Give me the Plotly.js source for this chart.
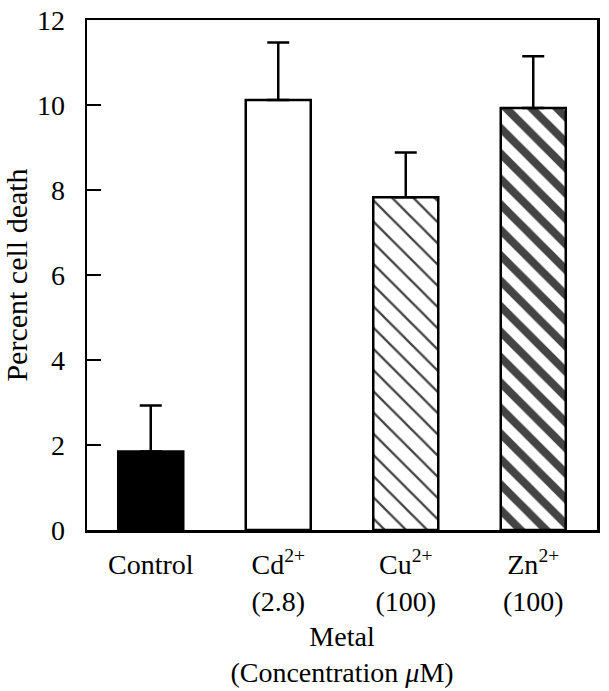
<!DOCTYPE html>
<html>
<head>
<meta charset="utf-8">
<script src="https://cdn.plot.ly/plotly-3.0.1.min.js"></script>
<style>html,body{margin:0;padding:0;background:#fff;}#chart{width:609px;height:691px;}</style>
</head>
<body>
<div id="chart"></div>
<script>
const categories = ["Control", "Cd<sup>2+</sup><br>(2.8)", "Cu<sup>2+</sup><br>(100)", "Zn<sup>2+</sup><br>(100)"];
const values = [1.85, 10.12, 7.83, 9.93];
const errors = [1.08, 1.35, 1.05, 1.22];
const fills = ["#000000", "#ffffff", "#ffffff", "#ffffff"];
const patternShapes = ["", "", "\\", "\\"];
const patternSizes = [8, 8, 15, 18];
const patternSolidity = [0.3, 0.3, 0.15, 0.45];

const FONT = "Liberation Serif, Times New Roman, serif";

const trace = {
  type: "bar",
  x: [0, 1, 2, 3],
  y: values,
  width: 0.51,
  marker: {
    color: fills,
    line: {color: "#000", width: 2.5},
    pattern: {shape: patternShapes, size: patternSizes, solidity: patternSolidity, fgcolor: "#000", fgopacity: 1, fillmode: "overlay"}
  },
  error_y: {type: "data", array: errors, arrayminus: errors.map(() => 0), symmetric: false, color: "#000", thickness: 2.5, width: 11},
  hoverinfo: "none"
};

const layout = {
  width: 609, height: 691,
  margin: {l: 87, r: 12, t: 20, b: 161},
  paper_bgcolor: "#fff", plot_bgcolor: "#fff",
  showlegend: false,
  font: {family: FONT, size: 28, color: "#000"},
  xaxis: {
    range: [-0.5, 3.5],
    tickmode: "array", tickvals: [0, 1, 2, 3], ticktext: categories,
    ticks: "", showgrid: false, zeroline: false,
    showline: true, linecolor: "#000", linewidth: 2.5, mirror: true,
    tickfont: {family: FONT, size: 28, color: "#000"},
    ticklabelstandoff: 8,
    title: {text: "Metal<br>(Concentration <i>μ</i>M)", font: {family: FONT, size: 28, color: "#000"}, standoff: 11},
    automargin: false
  },
  yaxis: {
    range: [0, 12],
    tickmode: "array", tickvals: [0, 2, 4, 6, 8, 10, 12],
    ticks: "inside", ticklen: 14, tickwidth: 2.5, tickcolor: "#000",
    showgrid: false, zeroline: false,
    showline: true, linecolor: "#000", linewidth: 2.5, mirror: true,
    tickfont: {family: FONT, size: 28, color: "#000"},
    ticklabelstandoff: 14,
    title: {text: "Percent cell death", font: {family: FONT, size: 30, color: "#000"}, standoff: 4},
    automargin: false
  }
};

Plotly.newPlot("chart", [trace], layout, {staticPlot: true, displayModeBar: false});
</script>
</body>
</html>
